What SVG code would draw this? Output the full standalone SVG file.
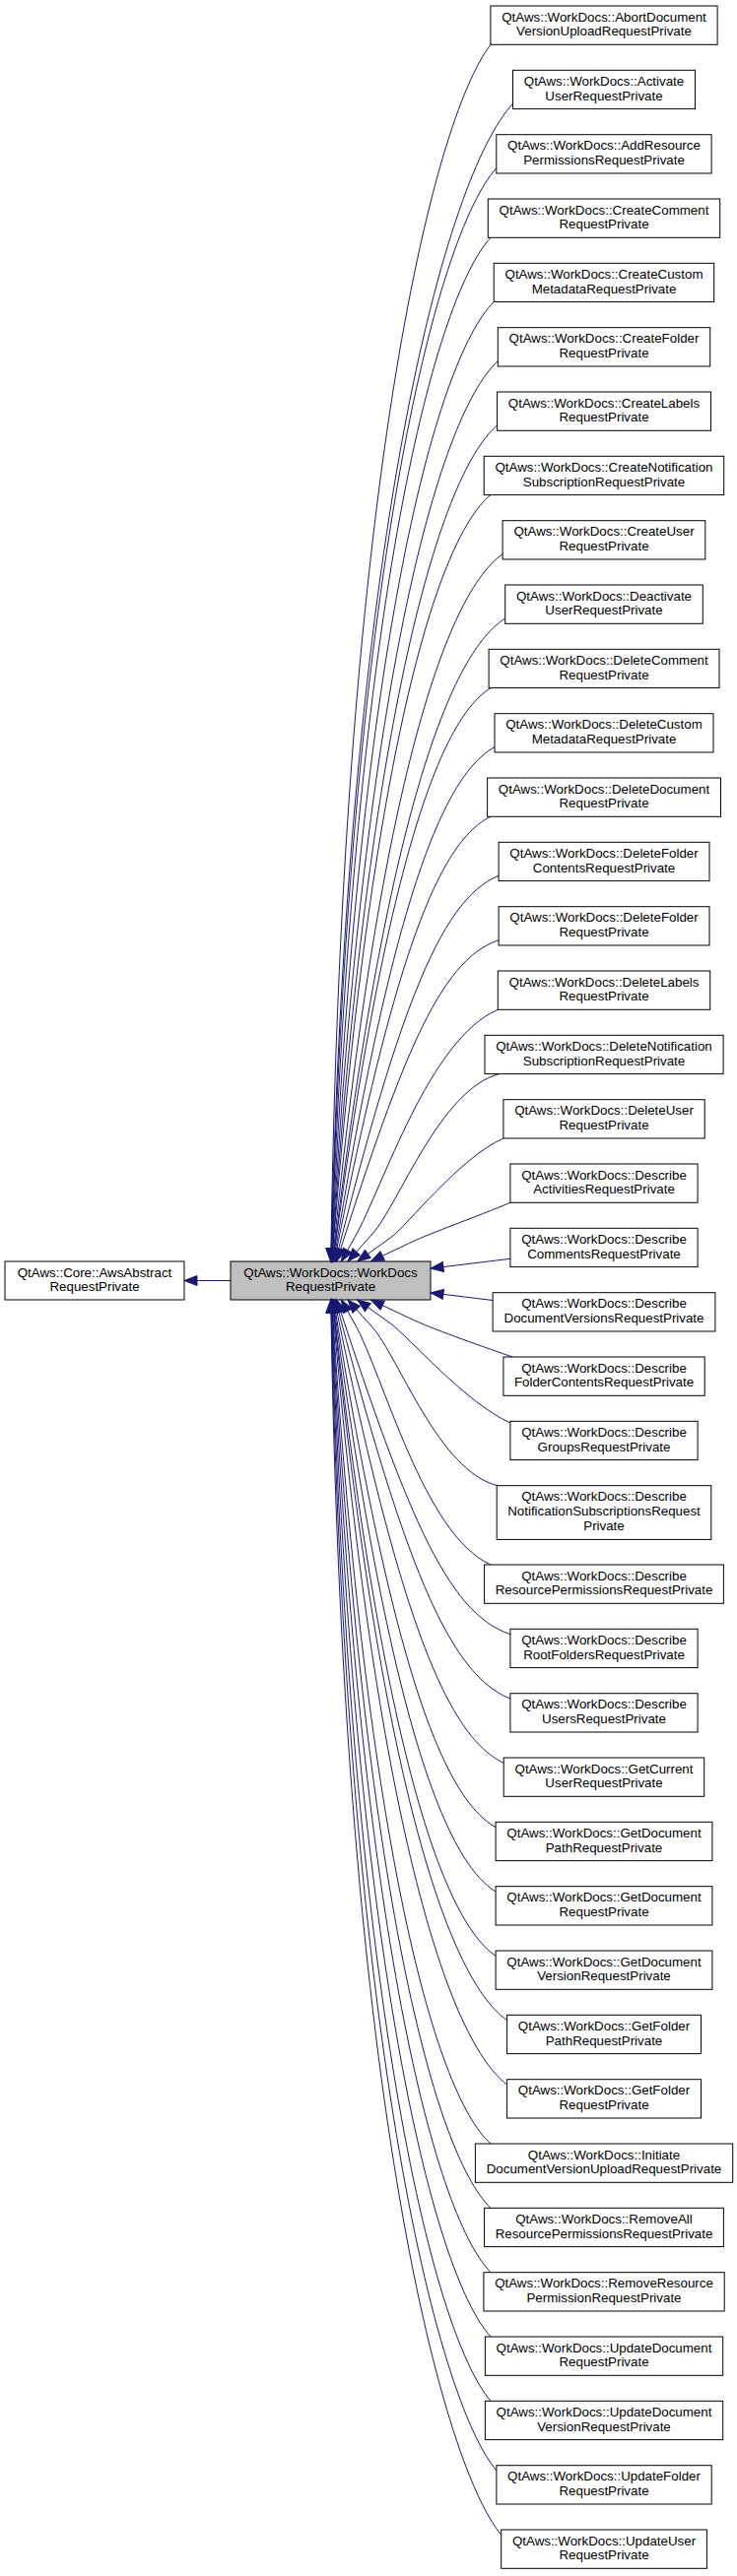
<svg xmlns="http://www.w3.org/2000/svg" width="748" height="2616" viewBox="0 0 748 2616">
<style>
.bx{fill:#fff;stroke:#000;stroke-width:1}
.root{fill:#bfbfbf;stroke:#000;stroke-width:1}
text{font-family:"Liberation Sans",Arial,Helvetica,sans-serif;font-size:13.33px;text-anchor:middle;fill:#000}
.e{fill:none;stroke:#191970;stroke-width:1}
.a{fill:none;stroke:none;marker-end:url(#ah)}
</style>
<defs>
<marker id="ah" markerUnits="userSpaceOnUse" markerWidth="15" markerHeight="12" refX="13" refY="5" orient="auto" overflow="visible">
<path d="M0,0 L13,5 L0,10 Z" fill="#191970" stroke="#191970" stroke-width="1"/>
</marker>
</defs>
<rect width="748" height="2616" fill="#fff"/>
<g id="connectors">
<path class="e" d="M234,1300.5 L187,1300.5" style="marker-end:url(#ah)"/>
<path class="e" d="M498,45.3 C439.5,120.6 345.3,497.2 335.5,1300.5"/>
<path class="e" d="M520.5,105.3 C453.9,177 351.2,535.6 335.5,1300.5"/>
<path class="e" d="M503.8,170.7 C443.2,238.5 354,577.4 335.5,1300.5"/>
<path class="e" d="M498,241.3 C439.5,304.9 357.4,622.6 335.5,1300.5"/>
<path class="e" d="M501.2,306.6 C441.5,366.2 362,664.4 335.5,1300.5"/>
<path class="e" d="M505.3,366.7 C444.2,422.7 366.9,702.9 335.5,1300.5"/>
<path class="e" d="M504.6,432 C443.7,484.1 371,744.7 335.5,1300.5"/>
<path class="e" d="M498,502.6 C439.5,550.5 373.7,789.8 335.5,1300.5"/>
<path class="e" d="M510.1,562.7 C447.2,607 380.9,828.3 335.5,1300.5"/>
<path class="e" d="M512.7,628 C448.9,668.4 386,870.1 335.5,1300.5"/>
<path class="e" d="M498,698.6 C439.5,734.7 385.9,915.3 335.5,1300.5"/>
<path class="e" d="M502,758.7 C442.1,791.2 391.3,953.7 335.5,1300.5"/>
<path class="e" d="M498,829.3 C439.5,857.6 394,998.9 335.5,1300.5"/>
<path class="e" d="M506.1,889.3 C444.7,914 401.2,1037.3 335.5,1300.5"/>
<path class="e" d="M506.1,954.7 C444.7,975.4 405.4,1079.2 335.5,1300.5"/>
<path class="e" d="M505.3,1025.3 C435.3,1055.3 389.3,1204.3 360,1256.7 L335.5,1300.5"/>
<path class="e" d="M506.7,1090.6 C446.7,1106 404.7,1223.2 378,1253 L335.5,1300.5"/>
<path class="e" d="M510.9,1156 C465.9,1176 413,1245.1 396.7,1256.7 L335.5,1300.5"/>
<path class="e" d="M517.9,1221.3 C483,1236 437.9,1251.7 415.3,1262.5 L335.5,1300.5"/>
<path class="e" d="M517.9,1278.3 L335.5,1300.5"/>
<path class="e" d="M500.1,1320.5 L335.5,1300.5"/>
<path class="e" d="M520,1378 C483,1365 437.9,1349.3 415.3,1338.5 L335.5,1300.5"/>
<path class="e" d="M517.9,1445 C472.9,1425 413,1355.9 396.7,1344.3 L335.5,1300.5"/>
<path class="e" d="M505,1508.7 C445,1494 404.7,1377.8 378,1348 L335.5,1300.5"/>
<path class="e" d="M498,1589 C430,1559 389.3,1396.7 360,1344.3 L335.5,1300.5"/>
<path class="e" d="M517.9,1659.6 C452.2,1638.1 410.3,1530.3 335.5,1300.5"/>
<path class="e" d="M517.9,1725 C452.2,1699.5 405.7,1572.2 335.5,1300.5"/>
<path class="e" d="M511.2,1790.3 C447.9,1760.9 398.8,1614 335.5,1300.5"/>
<path class="e" d="M503.1,1855.6 C442.8,1822.3 391.6,1655.8 335.5,1300.5"/>
<path class="e" d="M503.1,1921 C442.8,1883.8 387.5,1697.6 335.5,1300.5"/>
<path class="e" d="M503.1,1986.3 C442.8,1945.2 383.3,1739.4 335.5,1300.5"/>
<path class="e" d="M514.6,2051.6 C450.1,2006.5 382.1,1781.2 335.5,1300.5"/>
<path class="e" d="M514.6,2117 C450.1,2068 377.6,1823.1 335.5,1300.5"/>
<path class="e" d="M498,2177 C439.5,2124.4 369.6,1861.5 335.5,1300.5"/>
<path class="e" d="M498,2242.3 C439.5,2185.8 365.6,1903.3 335.5,1300.5"/>
<path class="e" d="M498,2307.7 C439.5,2247.3 361.5,1945.1 335.5,1300.5"/>
<path class="e" d="M498,2373 C439.5,2308.6 357.4,1986.9 335.5,1300.5"/>
<path class="e" d="M498,2438.3 C439.5,2370 353.4,2028.7 335.5,1300.5"/>
<path class="e" d="M503.9,2509 C443.3,2436.5 349.8,2073.9 335.5,1300.5"/>
<path class="e" d="M508.7,2574.3 C446.3,2497.9 345.9,2115.7 335.5,1300.5"/>
</g>
<g id="nodes">
<g id="n0"><rect class="bx" x="5" y="1281" width="182" height="39"/><text x="96" y="1296.5">QtAws::Core::AwsAbstract</text><text x="96" y="1311">RequestPrivate</text></g>
<g id="root"><rect class="root" x="234" y="1281" width="203" height="39"/><text x="335.5" y="1296.5">QtAws::WorkDocs::WorkDocs</text><text x="335.5" y="1311">RequestPrivate</text></g>
<g id="n1" transform="translate(0,6)"><rect class="bx" x="497.9" width="230.2" height="39.3"/><text x="613" y="15.8">QtAws::WorkDocs::AbortDocument</text><text x="613" y="30.3">VersionUploadRequestPrivate</text></g>
<g id="n2" transform="translate(0,71.3)"><rect class="bx" x="520.5" width="185" height="39.3"/><text x="613" y="15.8">QtAws::WorkDocs::Activate</text><text x="613" y="30.3">UserRequestPrivate</text></g>
<g id="n3" transform="translate(0,136.7)"><rect class="bx" x="503.8" width="218.3" height="39.3"/><text x="613" y="15.8">QtAws::WorkDocs::AddResource</text><text x="613" y="30.3">PermissionsRequestPrivate</text></g>
<g id="n4" transform="translate(0,202)"><rect class="bx" x="495.3" width="235.4" height="39.3"/><text x="613" y="15.8">QtAws::WorkDocs::CreateComment</text><text x="613" y="30.3">RequestPrivate</text></g>
<g id="n5" transform="translate(0,267.3)"><rect class="bx" x="501.2" width="223.5" height="39.3"/><text x="613" y="15.8">QtAws::WorkDocs::CreateCustom</text><text x="613" y="30.3">MetadataRequestPrivate</text></g>
<g id="n6" transform="translate(0,332.7)"><rect class="bx" x="505.3" width="215.4" height="39.3"/><text x="613" y="15.8">QtAws::WorkDocs::CreateFolder</text><text x="613" y="30.3">RequestPrivate</text></g>
<g id="n7" transform="translate(0,398)"><rect class="bx" x="504.6" width="216.9" height="39.3"/><text x="613" y="15.8">QtAws::WorkDocs::CreateLabels</text><text x="613" y="30.3">RequestPrivate</text></g>
<g id="n8" transform="translate(0,463.3)"><rect class="bx" x="491.2" width="243.5" height="39.3"/><text x="613" y="15.8">QtAws::WorkDocs::CreateNotification</text><text x="613" y="30.3">SubscriptionRequestPrivate</text></g>
<g id="n9" transform="translate(0,528.7)"><rect class="bx" x="510.1" width="205.7" height="39.3"/><text x="613" y="15.8">QtAws::WorkDocs::CreateUser</text><text x="613" y="30.3">RequestPrivate</text></g>
<g id="n10" transform="translate(0,594)"><rect class="bx" x="512.7" width="200.6" height="39.3"/><text x="613" y="15.8">QtAws::WorkDocs::Deactivate</text><text x="613" y="30.3">UserRequestPrivate</text></g>
<g id="n11" transform="translate(0,659.3)"><rect class="bx" x="496.1" width="233.9" height="39.3"/><text x="613" y="15.8">QtAws::WorkDocs::DeleteComment</text><text x="613" y="30.3">RequestPrivate</text></g>
<g id="n12" transform="translate(0,724.7)"><rect class="bx" x="502" width="222" height="39.3"/><text x="613" y="15.8">QtAws::WorkDocs::DeleteCustom</text><text x="613" y="30.3">MetadataRequestPrivate</text></g>
<g id="n13" transform="translate(0,790)"><rect class="bx" x="494.6" width="236.9" height="39.3"/><text x="613" y="15.8">QtAws::WorkDocs::DeleteDocument</text><text x="613" y="30.3">RequestPrivate</text></g>
<g id="n14" transform="translate(0,855.3)"><rect class="bx" x="506.1" width="213.9" height="39.3"/><text x="613" y="15.8">QtAws::WorkDocs::DeleteFolder</text><text x="613" y="30.3">ContentsRequestPrivate</text></g>
<g id="n15" transform="translate(0,920.7)"><rect class="bx" x="506.1" width="213.9" height="39.3"/><text x="613" y="15.8">QtAws::WorkDocs::DeleteFolder</text><text x="613" y="30.3">RequestPrivate</text></g>
<g id="n16" transform="translate(0,986)"><rect class="bx" x="505.3" width="215.4" height="39.3"/><text x="613" y="15.8">QtAws::WorkDocs::DeleteLabels</text><text x="613" y="30.3">RequestPrivate</text></g>
<g id="n17" transform="translate(0,1051.3)"><rect class="bx" x="492" width="242.1" height="39.3"/><text x="613" y="15.8">QtAws::WorkDocs::DeleteNotification</text><text x="613" y="30.3">SubscriptionRequestPrivate</text></g>
<g id="n18" transform="translate(0,1116.7)"><rect class="bx" x="510.9" width="204.3" height="39.3"/><text x="613" y="15.8">QtAws::WorkDocs::DeleteUser</text><text x="613" y="30.3">RequestPrivate</text></g>
<g id="n19" transform="translate(0,1182)"><rect class="bx" x="517.9" width="190.2" height="39.3"/><text x="613" y="15.8">QtAws::WorkDocs::Describe</text><text x="613" y="30.3">ActivitiesRequestPrivate</text></g>
<g id="n20" transform="translate(0,1247.3)"><rect class="bx" x="517.9" width="190.2" height="39.3"/><text x="613" y="15.8">QtAws::WorkDocs::Describe</text><text x="613" y="30.3">CommentsRequestPrivate</text></g>
<g id="n21" transform="translate(0,1312.7)"><rect class="bx" x="500.1" width="225.8" height="39.3"/><text x="613" y="15.8">QtAws::WorkDocs::Describe</text><text x="613" y="30.3">DocumentVersionsRequestPrivate</text></g>
<g id="n22" transform="translate(0,1378)"><rect class="bx" x="510.9" width="204.3" height="39.3"/><text x="613" y="15.8">QtAws::WorkDocs::Describe</text><text x="613" y="30.3">FolderContentsRequestPrivate</text></g>
<g id="n23" transform="translate(0,1443.3)"><rect class="bx" x="517.9" width="190.2" height="39.3"/><text x="613" y="15.8">QtAws::WorkDocs::Describe</text><text x="613" y="30.3">GroupsRequestPrivate</text></g>
<g id="n24" transform="translate(0,1508.7)"><rect class="bx" x="504.2" width="217.6" height="54.7"/><text x="613" y="15.6">QtAws::WorkDocs::Describe</text><text x="613" y="30.3">NotificationSubscriptionsRequest</text><text x="613" y="45">Private</text></g>
<g id="n25" transform="translate(0,1589)"><rect class="bx" x="491.6" width="242.8" height="39.3"/><text x="613" y="15.8">QtAws::WorkDocs::Describe</text><text x="613" y="30.3">ResourcePermissionsRequestPrivate</text></g>
<g id="n26" transform="translate(0,1654.3)"><rect class="bx" x="517.9" width="190.2" height="39.3"/><text x="613" y="15.8">QtAws::WorkDocs::Describe</text><text x="613" y="30.3">RootFoldersRequestPrivate</text></g>
<g id="n27" transform="translate(0,1719.7)"><rect class="bx" x="517.9" width="190.2" height="39.3"/><text x="613" y="15.8">QtAws::WorkDocs::Describe</text><text x="613" y="30.3">UsersRequestPrivate</text></g>
<g id="n28" transform="translate(0,1785)"><rect class="bx" x="511.2" width="203.5" height="39.3"/><text x="613" y="15.8">QtAws::WorkDocs::GetCurrent</text><text x="613" y="30.3">UserRequestPrivate</text></g>
<g id="n29" transform="translate(0,1850.3)"><rect class="bx" x="503.1" width="219.8" height="39.3"/><text x="613" y="15.8">QtAws::WorkDocs::GetDocument</text><text x="613" y="30.3">PathRequestPrivate</text></g>
<g id="n30" transform="translate(0,1915.7)"><rect class="bx" x="503.1" width="219.8" height="39.3"/><text x="613" y="15.8">QtAws::WorkDocs::GetDocument</text><text x="613" y="30.3">RequestPrivate</text></g>
<g id="n31" transform="translate(0,1981)"><rect class="bx" x="503.1" width="219.8" height="39.3"/><text x="613" y="15.8">QtAws::WorkDocs::GetDocument</text><text x="613" y="30.3">VersionRequestPrivate</text></g>
<g id="n32" transform="translate(0,2046.3)"><rect class="bx" x="514.6" width="196.9" height="39.3"/><text x="613" y="15.8">QtAws::WorkDocs::GetFolder</text><text x="613" y="30.3">PathRequestPrivate</text></g>
<g id="n33" transform="translate(0,2111.7)"><rect class="bx" x="514.6" width="196.9" height="39.3"/><text x="613" y="15.8">QtAws::WorkDocs::GetFolder</text><text x="613" y="30.3">RequestPrivate</text></g>
<g id="n34" transform="translate(0,2177)"><rect class="bx" x="482.4" width="261.3" height="39.3"/><text x="613" y="15.8">QtAws::WorkDocs::Initiate</text><text x="613" y="30.3">DocumentVersionUploadRequestPrivate</text></g>
<g id="n35" transform="translate(0,2242.3)"><rect class="bx" x="491.6" width="242.8" height="39.3"/><text x="613" y="15.8">QtAws::WorkDocs::RemoveAll</text><text x="613" y="30.3">ResourcePermissionsRequestPrivate</text></g>
<g id="n36" transform="translate(0,2307.7)"><rect class="bx" x="490.9" width="244.3" height="39.3"/><text x="613" y="15.8">QtAws::WorkDocs::RemoveResource</text><text x="613" y="30.3">PermissionRequestPrivate</text></g>
<g id="n37" transform="translate(0,2373)"><rect class="bx" x="492.4" width="241.3" height="39.3"/><text x="613" y="15.8">QtAws::WorkDocs::UpdateDocument</text><text x="613" y="30.3">RequestPrivate</text></g>
<g id="n38" transform="translate(0,2438.3)"><rect class="bx" x="492.4" width="241.3" height="39.3"/><text x="613" y="15.8">QtAws::WorkDocs::UpdateDocument</text><text x="613" y="30.3">VersionRequestPrivate</text></g>
<g id="n39" transform="translate(0,2503.7)"><rect class="bx" x="503.9" width="218.3" height="39.3"/><text x="613" y="15.8">QtAws::WorkDocs::UpdateFolder</text><text x="613" y="30.3">RequestPrivate</text></g>
<g id="n40" transform="translate(0,2569)"><rect class="bx" x="508.7" width="208.7" height="39.3"/><text x="613" y="15.8">QtAws::WorkDocs::UpdateUser</text><text x="613" y="30.3">RequestPrivate</text></g>
</g>
<g id="arrowheads">
<path class="a" d="M345.3,497.2 L335.7,1281"/>
<path class="a" d="M351.2,535.6 L335.9,1281"/>
<path class="a" d="M354,577.4 L336,1281"/>
<path class="a" d="M357.4,622.6 L336.1,1281"/>
<path class="a" d="M362,664.4 L336.3,1281"/>
<path class="a" d="M366.9,702.9 L336.5,1281"/>
<path class="a" d="M371,744.7 L336.7,1281"/>
<path class="a" d="M373.7,789.8 L337,1281"/>
<path class="a" d="M380.9,828.3 L337.4,1281"/>
<path class="a" d="M386,870.1 L337.8,1281"/>
<path class="a" d="M385.9,915.3 L338.1,1281"/>
<path class="a" d="M391.3,953.7 L338.6,1281"/>
<path class="a" d="M394,998.9 L339.3,1281"/>
<path class="a" d="M401.2,1037.3 L340.4,1281"/>
<path class="a" d="M405.4,1079.2 L341.7,1281"/>
<path class="a" d="M360,1256.7 L346.4,1281"/>
<path class="a" d="M378,1253 L353,1281"/>
<path class="a" d="M396.7,1256.7 L362.8,1281"/>
<path class="a" d="M415.3,1262.5 L376.5,1281"/>
<path class="a" d="M517.9,1278.3 L437,1288.1"/>
<path class="a" d="M500.1,1320.5 L437,1312.8"/>
<path class="a" d="M415.3,1338.5 L376.5,1320"/>
<path class="a" d="M396.7,1344.3 L362.8,1320"/>
<path class="a" d="M378,1348 L353,1320"/>
<path class="a" d="M360,1344.3 L346.4,1320"/>
<path class="a" d="M410.3,1530.3 L341.9,1320"/>
<path class="a" d="M405.7,1572.2 L340.5,1320"/>
<path class="a" d="M398.8,1614 L339.4,1320"/>
<path class="a" d="M391.6,1655.8 L338.6,1320"/>
<path class="a" d="M387.5,1697.6 L338.1,1320"/>
<path class="a" d="M383.3,1739.4 L337.6,1320"/>
<path class="a" d="M382.1,1781.2 L337.4,1320"/>
<path class="a" d="M377.6,1823.1 L337.1,1320"/>
<path class="a" d="M369.6,1861.5 L336.7,1320"/>
<path class="a" d="M365.6,1903.3 L336.5,1320"/>
<path class="a" d="M361.5,1945.1 L336.3,1320"/>
<path class="a" d="M357.4,1986.9 L336.1,1320"/>
<path class="a" d="M353.4,2028.7 L336,1320"/>
<path class="a" d="M349.8,2073.9 L335.9,1320"/>
<path class="a" d="M345.9,2115.7 L335.75,1320"/>
</g>
</svg>
